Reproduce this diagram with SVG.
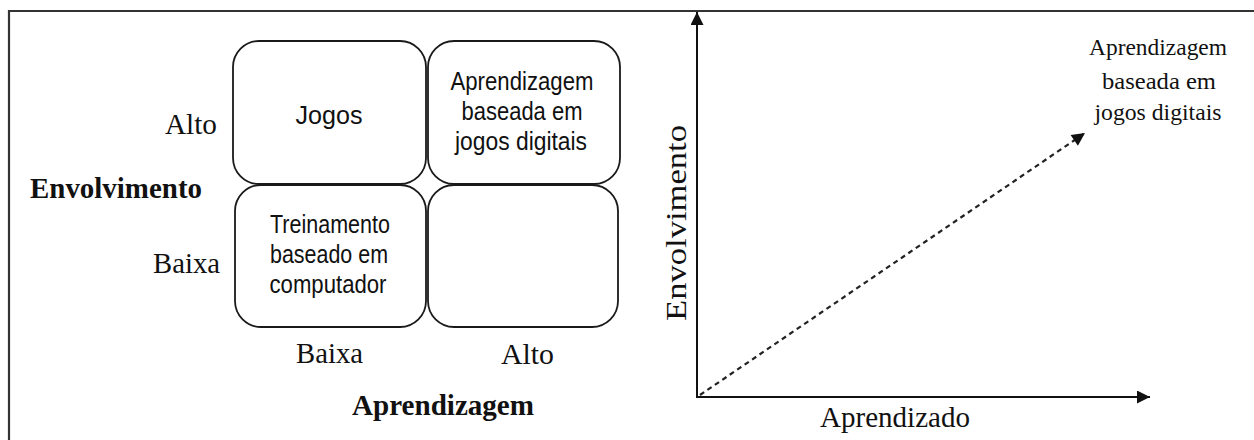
<svg xmlns="http://www.w3.org/2000/svg" width="1254" height="440" viewBox="0 0 1254 440">
<defs>
<style>
.box{fill:#fff;stroke:#1a1a1a;stroke-width:1.8}
.sans{font-family:"Liberation Sans",Arial,sans-serif;font-size:25px;fill:#111;text-anchor:middle}
.serif{font-family:"Liberation Serif","Times New Roman",serif;font-size:30px;fill:#111}
.small{font-size:24px;text-anchor:middle}
.bold{font-weight:bold}
.axis{stroke:#111;stroke-width:2;fill:none}
.dash{stroke:#222;stroke-width:2.2;fill:none;stroke-dasharray:5 4}
.frame{stroke:#333;stroke-width:2.2;fill:none}
</style>
<marker id="ah" viewBox="0 0 10 10" refX="10" refY="5" markerWidth="14" markerHeight="13" markerUnits="userSpaceOnUse" orient="auto">
<path d="M0,0 L10,5 L0,10 Z" fill="#111"/>
</marker>
<marker id="ahd" viewBox="0 0 10 10" refX="10" refY="5" markerWidth="15" markerHeight="13" markerUnits="userSpaceOnUse" orient="auto">
<path d="M0,0 L10,5 L0,10 Z" fill="#111"/>
</marker>
</defs>
<rect width="1254" height="440" fill="#fff"/>
<path class="frame" d="M9,441 L9,11 L1256,11"/>

<g id="q-jogos">
<rect class="box" x="233" y="41" width="193" height="143" rx="26"/>
<text class="sans" x="329" y="124" textLength="67" lengthAdjust="spacingAndGlyphs">Jogos</text>
</g>
<g id="q-abjd">
<rect class="box" x="428" y="41" width="192" height="143" rx="26"/>
<text class="sans" x="522" y="90" textLength="143" lengthAdjust="spacingAndGlyphs">Aprendizagem</text>
<text class="sans" x="522" y="120" textLength="121" lengthAdjust="spacingAndGlyphs">baseada em</text>
<text class="sans" x="521" y="150" textLength="132" lengthAdjust="spacingAndGlyphs">jogos digitais</text>
</g>
<g id="q-treinamento">
<rect class="box" x="235" y="185" width="191" height="142" rx="26"/>
<text class="sans" x="330" y="233" textLength="120" lengthAdjust="spacingAndGlyphs">Treinamento</text>
<text class="sans" x="329" y="263" textLength="118" lengthAdjust="spacingAndGlyphs">baseado em</text>
<text class="sans" x="328" y="293" textLength="117" lengthAdjust="spacingAndGlyphs">computador</text>
</g>
<g id="q-empty">
<rect class="box" x="428" y="185" width="190" height="142" rx="26"/>
</g>

<g id="matrix-labels">
<text class="serif" x="165" y="134" textLength="52" lengthAdjust="spacingAndGlyphs">Alto</text>
<text class="serif bold" x="30" y="198" textLength="172" lengthAdjust="spacingAndGlyphs">Envolvimento</text>
<text class="serif" x="153" y="273" textLength="67" lengthAdjust="spacingAndGlyphs">Baixa</text>
<text class="serif" x="296" y="363" textLength="67" lengthAdjust="spacingAndGlyphs">Baixa</text>
<text class="serif" x="501" y="364" textLength="53" lengthAdjust="spacingAndGlyphs">Alto</text>
<text class="serif bold" x="352" y="415" textLength="182" lengthAdjust="spacingAndGlyphs">Aprendizagem</text>
</g>

<g id="connectors">
<line class="axis" x1="697" y1="398" x2="697" y2="12" marker-end="url(#ah)"/>
<line class="axis" x1="696" y1="397" x2="1150" y2="397" marker-end="url(#ah)"/>
<line class="dash" x1="700" y1="395" x2="1085" y2="133" marker-end="url(#ahd)"/>
</g>

<g id="chart-labels">
<text class="serif" transform="translate(686,321) rotate(-90)" x="0" y="0" textLength="196" lengthAdjust="spacingAndGlyphs">Envolvimento</text>
<text class="serif" x="820" y="427" textLength="150" lengthAdjust="spacingAndGlyphs">Aprendizado</text>
<text class="serif small" x="1158" y="55" textLength="138" lengthAdjust="spacingAndGlyphs">Aprendizagem</text>
<text class="serif small" x="1159" y="89" textLength="114" lengthAdjust="spacingAndGlyphs">baseada em</text>
<text class="serif small" x="1158" y="120" textLength="127" lengthAdjust="spacingAndGlyphs">jogos digitais</text>
</g>
</svg>
